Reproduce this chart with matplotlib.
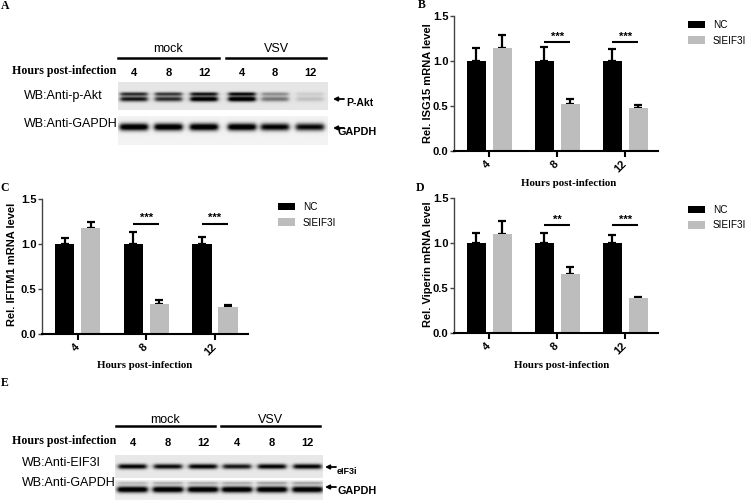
import numpy as np
import matplotlib
matplotlib.use('Agg')
import matplotlib.pyplot as plt

# ---------------- data ----------------
hours = ['4', '8', '12']
series_names = ['NC', 'SIEIF3I']

isg15_nc = [1.00, 1.00, 1.00]
isg15_nc_err = [0.145, 0.155, 0.13]
isg15_si = [1.15, 0.52, 0.477]
isg15_si_err = [0.14, 0.06, 0.036]
isg15_sig = ['', '***', '***']

ifitm1_nc = [1.00, 1.00, 1.00]
ifitm1_nc_err = [0.066, 0.13, 0.077]
ifitm1_si = [1.175, 0.336, 0.30]
ifitm1_si_err = [0.073, 0.044, 0.018]
ifitm1_sig = ['', '***', '***']

viperin_nc = [1.00, 1.00, 1.00]
viperin_nc_err = [0.114, 0.107, 0.088]
viperin_si = [1.10, 0.654, 0.39]
viperin_si_err = [0.146, 0.078, 0.012]
viperin_sig = ['', '**', '***']

sig_levels = [1.21, 1.225, 1.20]

blot_groups = ['mock', 'VSV']
blot_lanes = ['4', '8', '12', '4', '8', '12']
pakt_upper = [0.75, 0.70, 0.85, 0.90, 0.35, 0.10]
pakt_lower = [0.85, 0.75, 1.05, 1.10, 0.45, 0.15]
gapdh_a = [1.10, 1.10, 1.10, 1.10, 1.00, 0.95]
eif3i = [0.95, 0.90, 0.95, 0.85, 0.95, 0.95]
gapdh_e = [1.10, 1.10, 1.10, 1.10, 1.10, 1.10]
gapdh_e_faint = [0.20, 0.25, 0.25, 0.25, 0.30, 0.30]

# ---------------- style ----------------
SANS = ['Liberation Sans', 'DejaVu Sans']
SERIF = ['Liberation Serif', 'DejaVu Serif']
plt.rcParams['font.family'] = SANS
NC_COLOR = '#000000'
SI_COLOR = '#bdbdbd'
W, H = 750, 503

fig = plt.figure(figsize=(7.5, 5.03), dpi=100)


def fax(x0, y0, x1, y1):
    return [x0 / W, 1 - y1 / H, (x1 - x0) / W, (y1 - y0) / H]


def bar_panel(rect, nc, nc_err, si, si_err, sig, sig_level, legend_xy):
    ax = fig.add_axes(fax(*rect))
    ax.set_facecolor('none')
    x = np.arange(len(hours))
    off, bw = 0.19, 0.28
    b1 = ax.bar(x - off, nc, bw, color=NC_COLOR, label=series_names[0], zorder=2)
    b2 = ax.bar(x + off, si, bw, color=SI_COLOR, label=series_names[1], zorder=2)
    ax.errorbar(x - off, nc, yerr=[np.zeros(len(nc)), nc_err], fmt='none',
                ecolor=NC_COLOR, elinewidth=1.6, capsize=2.8, capthick=1.6, zorder=1)
    ax.errorbar(x + off, si, yerr=[np.zeros(len(si)), si_err], fmt='none',
                ecolor=NC_COLOR, elinewidth=1.6, capsize=2.8, capthick=1.6, zorder=1)
    for i, s in enumerate(sig):
        if s:
            ax.plot([i - off, i + off], [sig_level, sig_level], color='black', lw=1.5,
                    clip_on=False, solid_capstyle='butt')
            ax.text(i, sig_level + 0.005, s, ha='center', va='bottom', fontsize=8,
                    fontweight='bold', clip_on=False)
    ax.set_xlim(-0.52, 2.48)
    ax.set_ylim(0, 1.5)
    ax.set_yticks([0, 0.5, 1.0, 1.5])
    ax.set_yticklabels(['0.0', '0.5', '1.0', '1.5'])
    ax.set_xticks(x)
    ax.set_xticklabels(hours, rotation=45, ha='right', va='center', rotation_mode='anchor')
    for lab in ax.get_xticklabels() + ax.get_yticklabels():
        lab.set_fontweight('bold')
        lab.set_fontsize(8)
    ax.spines['top'].set_visible(False)
    ax.spines['right'].set_visible(False)
    ax.spines['bottom'].set_linewidth(1.5)
    ax.spines['left'].set_linewidth(1.0)
    ax.spines['left'].set_color('#444444')
    ax.tick_params(axis='y', length=3, width=1.0, pad=1, color='#444444')
    ax.tick_params(axis='x', length=4, width=1.5, pad=4)
    ax.legend(handles=[b1, b2], loc='upper left',
              bbox_to_anchor=(legend_xy[0] / W, 1 - legend_xy[1] / H),
              bbox_transform=fig.transFigure, frameon=False, borderpad=0,
              borderaxespad=0, fontsize=7.2, handlelength=1.7, handleheight=0.8,
              handletextpad=0.8, labelspacing=0.55)
    return ax


bar_panel((454, 16, 658, 151), isg15_nc, isg15_nc_err, isg15_si, isg15_si_err,
          isg15_sig, sig_levels[0], (688, 20))
bar_panel((42, 199, 248, 334), ifitm1_nc, ifitm1_nc_err, ifitm1_si, ifitm1_si_err,
          ifitm1_sig, sig_levels[1], (278, 202))
bar_panel((454, 198, 658, 333), viperin_nc, viperin_nc_err, viperin_si, viperin_si_err,
          viperin_sig, sig_levels[2], (688, 205))

# ---------------- overlay (pixel coordinates) ----------------
ov = fig.add_axes([0, 0, 1, 1])
ov.set_facecolor('none')
ov.axis('off')


def blot(x0, x1, y0, y1, lane_x, bands, bg, hw):
    S = 4
    nx, ny = int((x1 - x0) * S), int((y1 - y0) * S)
    xs = x0 + (np.arange(nx) + 0.5) / S
    ys = y0 + (np.arange(ny) + 0.5) / S
    X, Y = np.meshgrid(xs, ys)
    img = np.full((ny, nx), bg, dtype=float)
    for yc, vals, sig in bands:
        for cx, v in zip(lane_x, vals):
            horiz = 1.0 / (1.0 + np.exp((np.abs(X - cx) - hw) / 1.3))
            vert = np.exp(-0.5 * ((Y - yc) / sig) ** 2)
            img += v * horiz * vert
    ov.imshow(np.clip(img, 0, 1), cmap='gray_r', vmin=0, vmax=1,
              extent=(x0, x1, y1, y0), interpolation='bilinear', aspect='auto')


def arrow(x, y):
    ov.annotate('', xy=(x, y), xytext=(x + 11, y),
                arrowprops=dict(arrowstyle='-|>', lw=1.3, color='black',
                                mutation_scale=6, shrinkA=0, shrinkB=0))


def header(y_grp, y_line, y_lab, xa, xb, xc, xd, lane_x):
    ov.plot([xa, xb], [y_line, y_line], color='black', lw=1.8)
    ov.plot([xc, xd], [y_line, y_line], color='black', lw=1.8)
    ov.text((xa + xb) / 2, y_grp, blot_groups[0], ha='center', va='center', fontsize=9)
    ov.text((xc + xd) / 2, y_grp, blot_groups[1], ha='center', va='center', fontsize=9)
    ov.text(12, y_lab, 'Hours post-infection', ha='left', va='center', fontsize=8.6,
            fontweight='bold', family=SERIF)
    for lx, lab in zip(lane_x, blot_lanes):
        ov.text(lx, y_lab + 1.5, lab, ha='center', va='center', fontsize=8, fontweight='bold')


# Panel A
lanes_a = [134, 168.5, 204, 242, 275, 310]
header(49, 58, 71, 118, 219, 226, 326, lanes_a)
blot(118, 328, 82, 110, lanes_a, [(94, pakt_upper, 1.3), (99, pakt_lower, 1.8)], 0.10, 13.5)
blot(118, 328, 116, 145, lanes_a, [(127, gapdh_a, 2.6)], 0.05, 14)
ov.text(24, 96, 'WB:Anti-p-Akt', ha='left', va='center', fontsize=9)
ov.text(24, 124, 'WB:Anti-GAPDH', ha='left', va='center', fontsize=9)
arrow(333, 99)
ov.text(346, 103, 'P-Akt', ha='left', va='center', fontsize=7.5, fontweight='bold')
arrow(333, 128)
ov.text(337, 132, 'GAPDH', ha='left', va='center', fontsize=7.8, fontweight='bold')

# Panel E
lanes_e = [132.5, 168, 203, 237, 272, 307.5]
header(420, 426, 441, 116, 215, 221, 320, lanes_e)
blot(115, 323, 455, 478, lanes_e, [(466.5, eif3i, 1.8)], 0.09, 14)
blot(115, 323, 480, 500, lanes_e, [(483, gapdh_e_faint, 1.0), (489.5, gapdh_e, 2.2)], 0.07, 15)
ov.text(22, 463, 'WB:Anti-EIF3I', ha='left', va='center', fontsize=9)
ov.text(22, 483, 'WB:Anti-GAPDH', ha='left', va='center', fontsize=9)
arrow(325, 467)
ov.text(337, 471, 'eIF3i', ha='left', va='center', fontsize=6.5, fontweight='bold')
arrow(325, 487)
ov.text(337, 491, 'GAPDH', ha='left', va='center', fontsize=7.8, fontweight='bold')

# axis labels for bar panels
for cx, cy, txt in [(428, 83, 'Rel. ISG15 mRNA level'),
                    (12, 264, 'Rel. IFITM1 mRNA level'),
                    (428, 264, 'Rel. Viperin mRNA level')]:
    ov.text(cx, cy, txt, rotation=90, ha='center', va='center', fontsize=8, fontweight='bold')
for cx, cy in [(569, 183), (145, 365), (562, 365)]:
    ov.text(cx, cy, 'Hours post-infection', ha='center', va='center', fontsize=7.8,
            fontweight='bold', family=SERIF)

# panel letters
for cx, cy, t in [(5, 6, 'A'), (422, 5, 'B'), (5, 188, 'C'), (420, 188, 'D'), (5, 383, 'E')]:
    ov.text(cx, cy, t, ha='center', va='center', fontsize=8.5, fontweight='bold', family=SERIF)

ov.set_xlim(0, W)
ov.set_ylim(H, 0)

fig.savefig('out.png', dpi=100)
